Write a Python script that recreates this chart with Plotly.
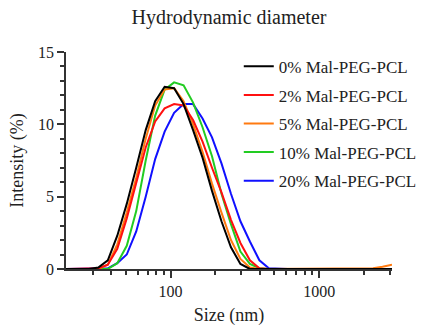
import plotly.graph_objects as go
import math

sizes = [18.17, 21.04, 24.36, 28.21, 32.67, 37.84, 43.82, 50.75, 58.77, 68.06, 78.82, 91.28,
         105.7, 122.4, 141.8, 164.2, 190.1, 220.2, 255.0, 295.3, 342.0, 396.1, 458.7, 531.2,
         615.1, 712.4, 825.0, 955.4, 1106, 1281, 1484, 1718, 1990, 2305, 2669, 3091]

pct0 = [0, 0, 0, 0, 0.1, 0.6, 2.3, 4.5, 7.0, 9.6, 11.6, 12.6,
        12.5, 11.4, 9.6, 7.7, 5.4, 3.3, 1.5, 0.35, 0, 0, 0, 0,
        0, 0, 0, 0, 0, 0, 0, 0, 0, 0, 0, 0]
pct2 = [0, 0, 0, 0, 0.05, 0.3, 1.4, 3.5, 5.9, 8.4, 10.2, 11.1,
        11.4, 11.3, 10.3, 8.8, 7.0, 5.3, 3.4, 1.8, 0.6, 0.05, 0, 0,
        0, 0, 0, 0, 0, 0, 0, 0, 0, 0, 0, 0]
pct5 = [0, 0, 0, 0, 0, 0.3, 1.7, 3.9, 6.3, 9.0, 11.3, 12.4,
        12.5, 11.6, 10.0, 8.1, 5.9, 3.9, 2.0, 0.7, 0.1, 0, 0, 0,
        0, 0, 0, 0, 0, 0, 0, 0, 0, 0.05, 0.15, 0.3]
pct10 = [0, 0, 0, 0, 0, 0, 0.4, 1.6, 4.0, 7.5, 10.6, 12.4,
         12.9, 12.7, 11.5, 9.8, 7.8, 5.2, 3.1, 1.2, 0.35, 0.05, 0, 0,
         0, 0, 0, 0, 0, 0, 0, 0, 0, 0, 0, 0]
pct20 = [0, 0, 0, 0, 0, 0.05, 0.4, 1.0, 2.6, 5.0, 7.6, 9.5,
         10.8, 11.4, 11.4, 10.4, 9.1, 7.3, 5.2, 3.3, 1.9, 0.6, 0.05, 0,
         0, 0, 0, 0, 0, 0, 0, 0, 0, 0, 0, 0]

series_names = ["0% Mal-PEG-PCL", "2% Mal-PEG-PCL", "5% Mal-PEG-PCL",
                "10% Mal-PEG-PCL", "20% Mal-PEG-PCL"]
series_vals = [pct0, pct2, pct5, pct10, pct20]
colors = ["#000000", "#FF1010", "#FF7A10", "#22CC22", "#1010FF"]

x_major = [100, 1000]
x_minor = [30, 40, 50, 60, 70, 80, 90, 200, 300, 400, 500, 600, 700, 800, 900, 2000, 3000]
y_major = [0, 5, 10, 15]

FONT = "Liberation Serif, Times New Roman, serif"

fig = go.Figure()
entries = list(enumerate(zip(series_names, series_vals, colors)))
for rank, (name, vals, col) in reversed(entries):
    fig.add_trace(go.Scatter(x=sizes, y=vals, mode="lines", name=name,
                             legendgroup=name, legendrank=rank + 1,
                             line=dict(color=col, width=2)))

axis_col = "#333333"
fig.update_layout(
    width=426, height=326,
    margin=dict(l=66, r=34, t=52, b=57, autoexpand=False),
    paper_bgcolor="white", plot_bgcolor="white",
    font=dict(family=FONT, color="#222222", size=16),
    title=dict(text="Hydrodynamic diameter", x=0.5, xref="paper", xanchor="center",
               y=1 - 17 / 326, yanchor="middle", font=dict(size=20, family=FONT, color="#222222")),
    showlegend=True,
    legend=dict(x=0.53, y=1.015, xanchor="left", yanchor="top", traceorder="grouped",
                font=dict(size=17, family=FONT, color="#222222"), tracegroupgap=3.5,
                bgcolor="rgba(0,0,0,0)"),
)
fig.update_xaxes(
    type="log", range=[math.log10(19.8), math.log10(3091)],
    tickmode="array", tickvals=x_major, ticktext=[str(v) for v in x_major],
    ticks="outside", ticklen=7, tickwidth=1.5, tickcolor=axis_col,
    minor=dict(tickmode="array", tickvals=x_minor, ticks="outside", ticklen=4,
               tickwidth=1.5, tickcolor=axis_col, showgrid=False),
    showline=True, linecolor=axis_col, linewidth=1.5, showgrid=False, zeroline=False,
    title=dict(text="Size (nm)", font=dict(size=18, family=FONT), standoff=13),
    tickfont=dict(size=16, family=FONT),
)
fig.update_yaxes(
    range=[0, 15], tickmode="array", tickvals=y_major,
    ticks="outside", ticklen=7, tickwidth=1.5, tickcolor=axis_col,
    minor=dict(dtick=1, ticks="outside", ticklen=4, tickwidth=1.5, tickcolor=axis_col, showgrid=False),
    showline=True, linecolor=axis_col, linewidth=1.5, showgrid=False, zeroline=False,
    title=dict(text="Intensity (%)", font=dict(size=18, family=FONT), standoff=10),
    tickfont=dict(size=16, family=FONT),
)

fig.write_html("out.html", config={"displayModeBar": False},
               post_script="document.body.style.margin='0px';")
